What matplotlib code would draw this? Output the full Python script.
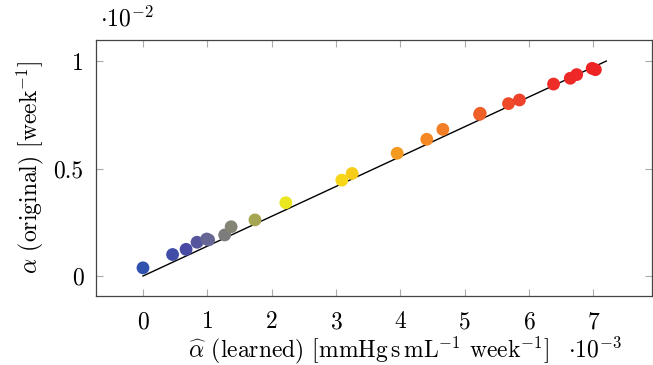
import numpy as np
import matplotlib
matplotlib.use("Agg")
import matplotlib.pyplot as plt
from matplotlib.colors import LinearSegmentedColormap

plt.rcParams['font.family'] = 'serif'
plt.rcParams['font.serif'] = ['cmr10']
plt.rcParams['mathtext.fontset'] = 'cm'
plt.rcParams['axes.unicode_minus'] = False
plt.rcParams['axes.formatter.use_mathtext'] = True

# learned alpha (x, in 1e-3) and original alpha (y, in 1e-2)
alpha_learned = [0.00, 0.46, 0.67, 0.84, 0.99, 1.02, 1.27, 1.37, 1.74, 2.22,
                 3.09, 3.25, 3.95, 4.41, 4.66, 5.23, 5.24, 5.68, 5.85, 6.38,
                 6.64, 6.74, 6.98, 7.03]
alpha_original = [0.038, 0.100, 0.124, 0.157, 0.172, 0.168, 0.191, 0.229, 0.261, 0.341,
                  0.446, 0.477, 0.571, 0.636, 0.682, 0.752, 0.757, 0.802, 0.819, 0.893,
                  0.920, 0.937, 0.966, 0.960]
fit_x = [0.0, 7.2]
fit_slope = 0.1389

xticks = [0, 1, 2, 3, 4, 5, 6, 7]
yticks = [0, 0.5, 1]
ytick_labels = ['0', '0.5', '1']

cmap = LinearSegmentedColormap.from_list('byr', [
    (0.00, '#2f52ae'),
    (0.10, '#4a4aa2'),
    (0.15, '#6a6a94'),
    (0.18, '#7c7c7c'),
    (0.25, '#a8a850'),
    (0.32, '#f0ec1c'),
    (0.45, '#f8d418'),
    (0.56, '#f59a20'),
    (0.66, '#f28026'),
    (0.76, '#ef5a2a'),
    (0.90, '#ee2e2a'),
    (1.00, '#ec2424'),
])

FS = 17

fig = plt.figure(figsize=(6.53, 3.65), dpi=100)
ax = fig.add_axes([96/653, 1-296/365, (652-96)/653, (296-40)/365])

xs = np.array(fit_x)
ax.plot(xs, fit_slope * xs, color='black', lw=1.0, zorder=1)

vals = np.array(alpha_learned)
ax.scatter(alpha_learned, alpha_original, c=vals, cmap=cmap, vmin=0, vmax=max(alpha_learned),
           s=85, edgecolors='none', zorder=2)

ax.set_xlim(-0.73, 7.91)
ax.set_ylim(-0.093, 1.098)
ax.set_xticks(xticks)
ax.set_yticks(yticks)
ax.set_yticklabels(ytick_labels)
ax.tick_params(direction='in', length=5, color='#aaaaaa', width=0.8,
               top=True, right=True, labelsize=FS)
ax.tick_params(axis='x', pad=11)
ax.tick_params(axis='y', pad=9)
for s in ax.spines.values():
    s.set_color('#444444')
    s.set_linewidth(0.9)

fig.text(369/653, 1-357/365, r'$\widehat{\alpha}$ (learned) [mmHg$\,$s$\,$mL$^{-1}$ week$^{-1}$]',
         ha='center', va='baseline', fontsize=FS)
fig.text(568/653, 1-357/365, r'$\cdot 10^{-3}$', ha='left', va='baseline', fontsize=FS)
fig.text(100/653, 1-26/365, r'$\cdot 10^{-2}$', ha='left', va='baseline', fontsize=FS)
fig.text(30/653, 1-168/365, r'$\alpha$ (original) [week$^{-1}$]', rotation=90,
         ha='center', va='center', fontsize=FS)

fig.savefig('out.png', dpi=100)
